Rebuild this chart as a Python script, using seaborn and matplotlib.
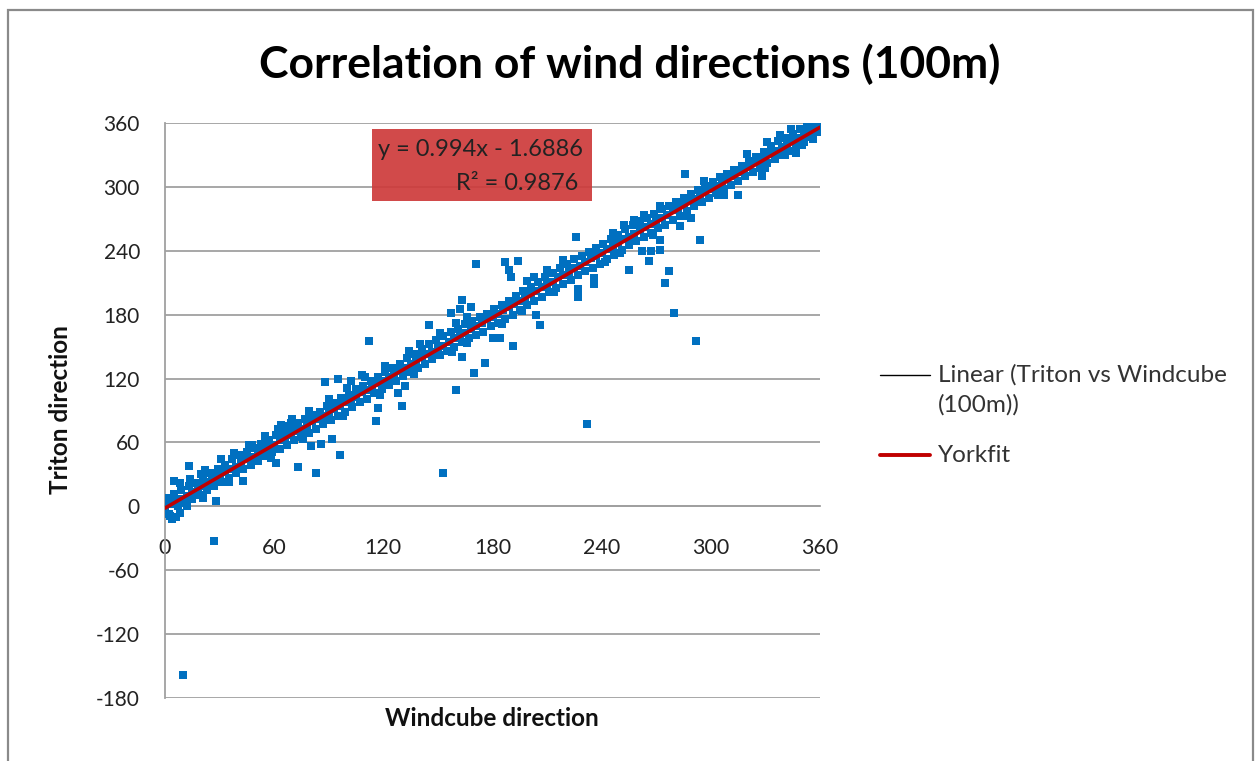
import numpy as np
import pandas as pd
import matplotlib
matplotlib.use("Agg")
import matplotlib.pyplot as plt
import seaborn as sns
from matplotlib.lines import Line2D
from matplotlib.patches import Rectangle

# ---------------- data ----------------
center_x = [0, 3, 6, 9, 12, 15, 18, 21, 24, 27, 30, 33, 36, 39, 42, 45, 48, 51, 54, 57,
            60, 63, 66, 69, 72, 75, 78, 81, 84, 87, 90, 93, 96, 99, 102, 105, 108, 111, 114, 117,
            120, 123, 126, 129, 132, 135, 138, 141, 144, 147, 150, 153, 156, 159, 162, 165, 168, 171, 174, 177,
            180, 183, 186, 189, 192, 195, 198, 201, 204, 207, 210, 213, 216, 219, 222, 225, 228, 231, 234, 237,
            240, 243, 246, 249, 252, 255, 258, 261, 264, 267, 270, 273, 276, 279, 282, 285, 288, 291, 294, 297,
            300, 303, 306, 309, 312, 315, 318, 321, 324, 327, 330, 333, 336, 339, 342, 345, 348, 351, 354, 357, 360]
center_y = [-2, 2, 4, 7, 10, 13, 16, 19, 23, 26, 28, 32, 35, 37, 41, 44, 46, 50, 53, 55,
            58, 62, 64, 67, 71, 73, 76, 80, 82, 85, 89, 91, 94, 98, 100, 103, 107, 109, 112, 116,
            118, 121, 125, 127, 130, 134, 136, 140, 143, 145, 149, 151, 154, 158, 160, 163, 167, 169, 172, 176,
            178, 181, 184, 187, 190, 193, 196, 199, 202, 206, 208, 211, 215, 217, 220, 224, 226, 229, 233, 235,
            238, 242, 244, 247, 251, 253, 256, 260, 262, 265, 269, 271, 274, 278, 280, 283, 287, 289, 292, 296,
            298, 301, 305, 307, 310, 314, 316, 319, 323, 325, 328, 332, 334, 337, 341, 343, 346, 350, 352, 355, 358]

upper_x = [1, 5, 9, 13, 17, 21, 25, 29, 33, 37, 41, 45, 49, 53, 57, 61, 65, 69, 73, 77,
           81, 85, 89, 93, 97, 101, 105, 109, 113, 117, 121, 125, 129, 133, 137, 141, 145, 149, 153, 157,
           161, 165, 169, 173, 177, 181, 185, 189, 193, 197, 201, 205, 209, 213, 217, 221, 225, 229, 233, 237,
           241, 245, 249, 253, 257, 261, 265, 269, 273, 277, 281, 285, 289, 293, 297, 301, 305, 309, 313, 317,
           321, 325, 329, 333, 337, 341, 345, 349, 353, 357]
upper_y = [8, 12, 15, 19, 22, 27, 31, 35, 39, 44, 48, 51, 55, 59, 62, 67, 70, 74, 78, 82,
           86, 89, 94, 97, 102, 105, 110, 113, 118, 121, 126, 130, 134, 139, 143, 148, 152, 156, 160, 164,
           167, 171, 174, 178, 181, 185, 189, 193, 198, 202, 206, 211, 215, 219, 224, 228, 232, 235, 239, 243,
           246, 251, 255, 260, 264, 268, 271, 275, 279, 282, 286, 290, 293, 297, 301, 305, 309, 312, 316, 320,
           324, 328, 333, 338, 343, 346, 350, 354, 357, 359]

lower_x = [3, 7, 11, 15, 19, 23, 27, 31, 35, 39, 43, 47, 51, 55, 59, 63, 67, 71, 75, 79,
           83, 87, 91, 95, 99, 103, 107, 111, 115, 119, 123, 127, 131, 135, 139, 143, 147, 151, 155, 159,
           163, 167, 171, 175, 179, 183, 187, 191, 195, 199, 203, 207, 211, 215, 219, 223, 227, 231, 235, 239,
           243, 247, 251, 255, 259, 263, 267, 271, 275, 279, 283, 287, 291, 295, 299, 303, 307, 311, 315, 319,
           323, 327, 331, 335, 339, 343, 347, 351, 355, 359]
lower_y = [-9, 0, 3, 7, 11, 15, 19, 23, 27, 31, 35, 39, 43, 47, 51, 54, 58, 62, 65, 69,
           73, 77, 81, 85, 89, 93, 98, 101, 106, 110, 114, 118, 122, 126, 130, 134, 138, 142, 146, 150,
           154, 158, 161, 164, 169, 172, 176, 180, 184, 189, 193, 197, 201, 205, 209, 213, 217, 221, 224, 228,
           232, 236, 241, 245, 249, 253, 257, 261, 264, 269, 273, 277, 282, 286, 290, 294, 298, 302, 306, 310,
           314, 318, 322, 326, 330, 334, 338, 342, 347, 352]

edge_x = [8, 14, 22, 31, 38, 46, 55, 64, 70, 79, 90, 100, 110, 121, 134, 140, 151, 160, 166,
          203, 210, 219, 246, 252, 258, 263, 272, 296, 320, 338, 344,
          12, 35, 58, 76, 98, 118, 137, 166, 185, 196, 214, 242, 250, 268, 285, 304, 330, 350, 356]
edge_y = [22, 26, 34, 44, 50, 58, 66, 76, 82, 90, 101, 111, 121, 132, 146, 152, 163, 172, 178,
          215, 222, 231, 257, 264, 269, 274, 282, 306, 331, 349, 354,
          0, 23, 45, 63, 85, 105, 124, 153, 171, 183, 201, 229, 238, 255, 273, 292, 318, 339, 345]

outlier_x = [10, 27, 153, 232, 292, 280, 294, 277, 275, 286, 226, 255, 266, 262, 267, 272, 272,
             176, 191, 206, 227, 187, 194, 189, 190, 199, 236, 236, 328, 315, 307, 331, 347, 341,
             171, 163, 162, 168, 157, 112, 145, 163, 170, 160, 130, 117, 88, 95, 102, 108, 116, 128, 132,
             62, 66, 69, 48, 53, 61, 73, 83, 86, 92, 96, 80, 13, 5, 20, 26, 21, 28, 43, 4, 2,
             180, 184, 204, 158, 289, 283, 227, 6, 0, 1, 3, 8]
outlier_y = [-158, -33, 31, 77, 155, 182, 250, 221, 210, 312, 253, 222, 230, 240, 240, 250, 241,
             135, 151, 170, 197, 229, 230, 222, 215, 212, 214, 209, 310, 292, 292, 342, 332, 330,
             228, 194, 185, 187, 182, 155, 170, 140, 125, 109, 94, 92, 117, 120, 118, 123, 80, 106, 113,
             73, 75, 78, 58, 58, 41, 37, 31, 59, 63, 48, 57, 38, 24, 30, 28, 8, 5, 24, -12, -7,
             158, 158, 180, 145, 271, 263, 204, -10, -4, 2, 5, -6]

yorkfit_x = [0, 360]
yorkfit_y = [-1.7, 356.0]

trend_slope = 0.994
trend_intercept = -1.6886
trend_r2 = 0.9876

x_ticks = [0, 60, 120, 180, 240, 300, 360]
y_ticks = [-180, -120, -60, 0, 60, 120, 180, 240, 300, 360]

title = "Correlation of wind directions (100m)"
x_label = "Windcube direction"
y_label = "Triton direction"
linear_label_lines = ["Linear (Triton vs Windcube", "(100m))"]
york_label = "Yorkfit"

# ---------------- build frames ----------------
pts = pd.DataFrame({
    "Windcube": center_x + upper_x + lower_x + edge_x + outlier_x,
    "Triton": center_y + upper_y + lower_y + edge_y + outlier_y,
})
tx = np.array([min(pts["Windcube"]), max(pts["Windcube"])], dtype=float)
trend = pd.DataFrame({"x": tx, "y": trend_slope * tx + trend_intercept})
york = pd.DataFrame({"x": yorkfit_x, "y": yorkfit_y})

# ---------------- style ----------------
sns.set_style("white")
plt.rcParams["font.family"] = ["Lato", "DejaVu Sans"]

W, H = 1256, 761
fig = plt.figure(figsize=(W / 100, H / 100), dpi=100)
ax = fig.add_axes([165 / W, 1 - 698 / H, (820 - 165) / W, (698 - 123) / H])

blue = "#0070C0"
red = "#C00000"
grid_c = "#A0A0A0"

sns.scatterplot(data=pts, x="Windcube", y="Triton", ax=ax, marker="s", s=35,
                color=blue, edgecolor=blue, linewidth=0, zorder=3, legend=False)
sns.lineplot(data=trend, x="x", y="y", ax=ax, color="black", lw=1.0, zorder=4, legend=False)
sns.lineplot(data=york, x="x", y="y", ax=ax, color=red, lw=2.6, zorder=5, legend=False)

ax.set_xlim(0, 360)
ax.set_ylim(-180, 360)
ax.set_xticks(x_ticks)
ax.set_yticks(y_ticks)
ax.set_xticklabels([str(v) for v in x_ticks])
ax.set_yticklabels([str(v) for v in y_ticks])
ax.yaxis.grid(True, color=grid_c, lw=1.3)
ax.xaxis.grid(False)
ax.set_axisbelow(True)

for s in ["top", "right"]:
    ax.spines[s].set_visible(False)
ax.spines["left"].set_color(grid_c)
ax.spines["left"].set_linewidth(1.3)
ax.spines["bottom"].set_position(("data", 0))
ax.spines["bottom"].set_color(grid_c)
ax.spines["bottom"].set_linewidth(1.3)

ax.tick_params(axis="x", length=0, pad=23, labelsize=15.5, colors="#222222")
ax.tick_params(axis="y", length=0, pad=18, labelsize=15, colors="#222222")
ax.set_xlabel("")
ax.set_ylabel("")

# axis titles
fig.text(492 / W, 1 - 719 / H, x_label, ha="center", va="center",
         fontsize=17.5, fontweight="bold", color="#111111")
fig.text(60 / W, 1 - 410 / H, y_label, ha="center", va="center", rotation=90,
         fontsize=17.5, fontweight="bold", color="#111111")

# title
fig.text(630 / W, 1 - 64 / H, title, ha="center", va="center",
         fontsize=32, fontweight="bold", color="black")

# equation box
ax.add_patch(Rectangle((372 / W, 1 - 201 / H), (592 - 372) / W, (201 - 129) / H,
                       transform=fig.transFigure, facecolor="#CD3A3A", alpha=0.92,
                       edgecolor="none", zorder=6))
fig.text(583 / W, 1 - 149 / H, f"y = {trend_slope}x - {abs(trend_intercept)}",
         ha="right", va="center", fontsize=17, color="#222222", zorder=7)
fig.text(578 / W, 1 - 184 / H, f"R\u00b2 = {trend_r2}",
         ha="right", va="center", fontsize=17, color="#222222", zorder=7)

# legend (drawn by hand to keep Excel's placement)
fig.add_artist(Line2D([880 / W, 930 / W], [1 - 375 / H, 1 - 375 / H],
                      transform=fig.transFigure, color="black", lw=1.0))
fig.add_artist(Line2D([880 / W, 930 / W], [1 - 455 / H, 1 - 455 / H],
                      transform=fig.transFigure, color=red, lw=2.8))
fig.text(938 / W, 1 - 375 / H, linear_label_lines[0], ha="left", va="center",
         fontsize=17.5, color="#333333")
fig.text(938 / W, 1 - 405 / H, linear_label_lines[1], ha="left", va="center",
         fontsize=17.5, color="#333333")
fig.text(938 / W, 1 - 455 / H, york_label, ha="left", va="center",
         fontsize=17.5, color="#333333")

# outer chart border
fig.add_artist(Rectangle((8 / W, -0.05), (1253 - 8) / W, 1.05 - 10 / H,
                         transform=fig.transFigure, facecolor="none",
                         edgecolor="#8A8A8A", lw=1.6))

fig.savefig("out.png", dpi=100)
